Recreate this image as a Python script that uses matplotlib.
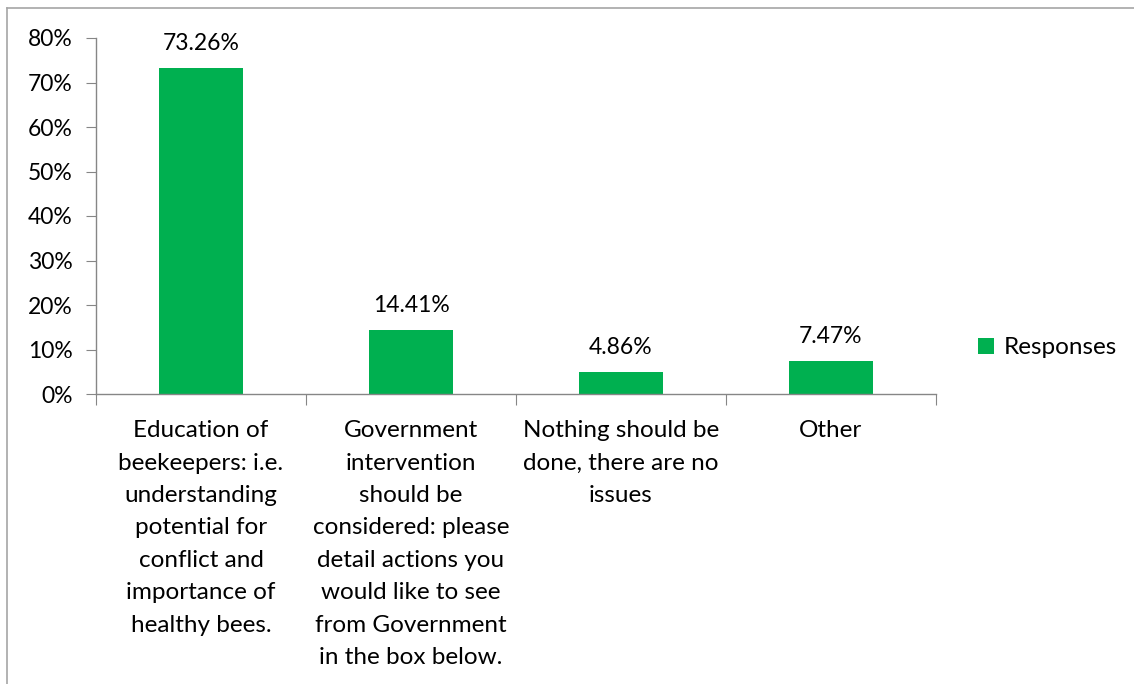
import matplotlib

matplotlib.use("Agg")

import matplotlib.pyplot as plt
from matplotlib.lines import Line2D
from matplotlib.patches import Patch

categories = [
    "Education of\nbeekeepers: i.e.\nunderstanding\npotential for\nconflict and\nimportance of\nhealthy bees.",
    "Government\nintervention\nshould be\nconsidered: please\ndetail actions you\nwould like to see\nfrom Government\nin the box below.",
    "Nothing should be\ndone, there are no\nissues",
    "Other",
]
responses = [73.26, 14.41, 4.86, 7.47]
y_ticks = [0, 10, 20, 30, 40, 50, 60, 70, 80]

GREEN = "#00b050"
AXIS_GREY = "#868686"
NUM_SIZE = 16.5
WORD_SIZE = 17.5

plt.rcParams["font.family"] = ["Lato", "DejaVu Sans"]

fig = plt.figure(figsize=(11.34, 6.84), dpi=100)
ax = fig.add_axes([96 / 1134, 1 - 394 / 684, 840 / 1134, 356 / 684])

x = range(len(categories))
ax.bar(x, responses, width=0.4, color=GREEN, zorder=2)

for xi, v in zip(x, responses):
    ax.annotate(f"{v:.2f}%", (xi, v), xytext=(0, 10), textcoords="offset points",
                ha="center", va="bottom", fontsize=NUM_SIZE, color="#000000")

ax.set_xlim(-0.5, len(categories) - 0.5)
ax.set_ylim(0, 80)
ax.set_yticks(y_ticks)
ax.set_yticklabels([f"{t}%" for t in y_ticks], fontsize=NUM_SIZE)
ax.tick_params(axis="y", direction="out", length=7, color=AXIS_GREY, pad=10)

# category labels sit under the bars; ticks mark the category boundaries
ax.set_xticks([i - 0.5 for i in range(len(categories) + 1)])
ax.set_xticklabels([])
ax.tick_params(axis="x", direction="out", length=8, color=AXIS_GREY)
for xi, label in zip(x, categories):
    ax.text(xi, -5.9, label, ha="center", va="top", fontsize=WORD_SIZE,
            linespacing=1.67, transform=ax.transData)

for side in ("top", "right"):
    ax.spines[side].set_visible(False)
for side in ("left", "bottom"):
    ax.spines[side].set_color(AXIS_GREY)
    ax.spines[side].set_linewidth(1.0)

handles = [Patch(facecolor=GREEN, edgecolor="none", label="Responses")]
fig.legend(handles=handles, loc="center left", bbox_to_anchor=(966 / 1134, 1 - 348 / 684),
           frameon=False, fontsize=WORD_SIZE, handlelength=0.65, handleheight=0.65,
           handletextpad=0.4, borderpad=0)

# outer chart frame (left and top edges)
fig.add_artist(Line2D([7 / 1134, 7 / 1134], [0, 1 - 8 / 684], transform=fig.transFigure,
                      color="#a6a6a6", linewidth=1.2))
fig.add_artist(Line2D([7 / 1134, 1], [1 - 8 / 684, 1 - 8 / 684], transform=fig.transFigure,
                      color="#a6a6a6", linewidth=1.2))

fig.savefig("out.png", dpi=100)
